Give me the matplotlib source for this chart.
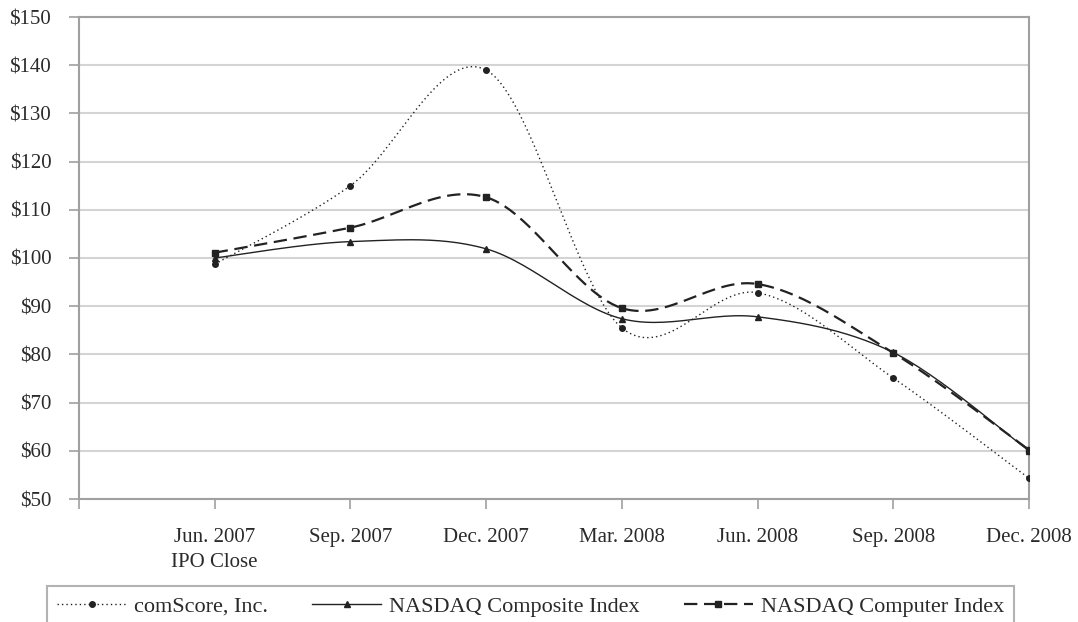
import numpy as np
import matplotlib
matplotlib.use("Agg")
import matplotlib.pyplot as plt
from matplotlib.lines import Line2D

# category labels (position 0 is an empty slot on the axis)
labels = ["Jun. 2007\nIPO Close", "Sep. 2007", "Dec. 2007", "Mar. 2008",
          "Jun. 2008", "Sep. 2008", "Dec. 2008"]
comscore = [98.7, 115.0, 139.0, 85.5, 92.8, 75.1, 54.3]
nasdaq_comp = [100.0, 103.4, 101.9, 87.4, 87.8, 80.4, 60.0]
nasdaq_computer = [101.1, 106.3, 112.6, 89.6, 94.6, 80.3, 60.2]
yticks = [50, 60, 70, 80, 90, 100, 110, 120, 130, 140, 150]

plt.rcParams['font.family'] = ['Liberation Serif', 'DejaVu Serif']
txt = '#2a2a2a'


def smooth(xs, ys, n=30):
    # Excel-style smoothed line: cubic bezier through each pair of points
    xs = np.asarray(xs, float)
    ys = np.asarray(ys, float)
    P = np.column_stack([xs, ys])
    out = [P[0]]
    t = np.linspace(0, 1, n)[1:, None]
    for i in range(len(P) - 1):
        p0 = P[i - 1] if i > 0 else P[i]
        p3 = P[i + 2] if i + 2 < len(P) else P[i + 1]
        c1 = P[i] + (P[i + 1] - p0) / 6
        c2 = P[i + 1] - (p3 - P[i]) / 6
        seg = ((1 - t) ** 3) * P[i] + 3 * ((1 - t) ** 2) * t * c1 \
            + 3 * (1 - t) * t ** 2 * c2 + t ** 3 * P[i + 1]
        out.extend(seg)
    out = np.array(out)
    return out[:, 0], out[:, 1]


fig = plt.figure(figsize=(10.78, 6.22), dpi=100)
ax = fig.add_axes([79 / 1078, 1 - 499 / 622, 950 / 1078, 482 / 622])

xpos = np.arange(1, len(labels) + 1)
series = [
    (comscore, (0, (1, 2.2)), 'o', 4, 1.0, "comScore, Inc."),
    (nasdaq_comp, '-', '^', 5, 1.0, "NASDAQ Composite Index"),
    (nasdaq_computer, (0, (6, 3)), 's', 4, 1.6, "NASDAQ Computer Index"),
]
handles = []
for vals, ls, mk, ms, lw, name in series:
    sx, sy = smooth(xpos, vals)
    ax.plot(sx, sy, color='#222222', linestyle=ls, linewidth=lw, zorder=3)
    ax.plot(xpos, vals, linestyle='none', marker=mk, markersize=ms,
            color='#222222', zorder=4)
    handles.append(Line2D([], [], color='#222222', linestyle=ls, linewidth=lw,
                          marker=mk, markersize=ms, label=name))

ax.set_xlim(0, 7)
ax.set_ylim(50, 150)
ax.set_yticks(yticks)
ax.set_yticklabels([f"${v}" for v in yticks])
ax.set_xticks(np.arange(0, 8))
ax.set_xticklabels([""] + labels, linespacing=1.45)
ax.yaxis.grid(True, color='#d4d4d4', linewidth=1.5)
ax.set_axisbelow(True)
for s in ax.spines.values():
    s.set_color('#a0a0a0')
    s.set_linewidth(1.5)
ax.tick_params(axis='both', colors='#a0a0a0', labelcolor=txt,
               labelsize=15, length=7, width=1.2)
ax.tick_params(axis='y', pad=13)
ax.tick_params(axis='x', pad=14)

leg = fig.legend(handles=handles, loc='lower left',
                 bbox_to_anchor=(36 / 1078, -16 / 622), ncol=3,
                 frameon=True, fancybox=False, fontsize=16, handlelength=3.1,
                 handletextpad=0.35, columnspacing=2.0, borderpad=0.45)
leg.get_frame().set_edgecolor('#a0a0a0')
leg.get_frame().set_linewidth(1.5)
for t in leg.get_texts():
    t.set_color(txt)

fig.savefig("out.png", dpi=100)
